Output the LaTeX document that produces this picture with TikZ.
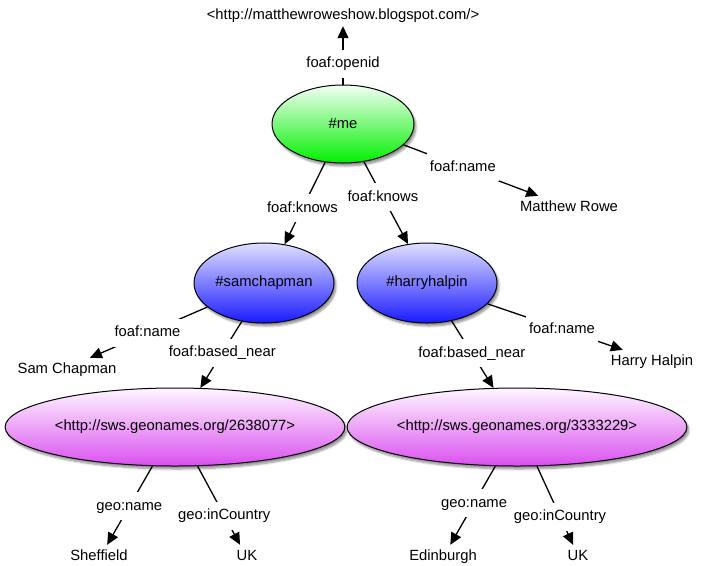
\documentclass[tikz,border=0pt]{standalone}
\usepackage{fontspec}
\setmainfont{Liberation Sans}
\usetikzlibrary{arrows.meta,shapes.geometric,shadows.blur}
\definecolor{gtop}{HTML}{F4FFF4}
\definecolor{gmid}{HTML}{3CFF3C}
\definecolor{gbot}{HTML}{00F000}
\definecolor{btop}{HTML}{E0E0FF}
\definecolor{bmid}{HTML}{7070FF}
\definecolor{bbot}{HTML}{1A1AFF}
\definecolor{ptop}{HTML}{FFF6FF}
\definecolor{pmid}{HTML}{F2B0F8}
\definecolor{pbot}{HTML}{DA50F0}
\tikzset{
  ent/.style={ellipse, draw=black, line width=1pt, inner sep=0pt,
    blur shadow={shadow xshift=2pt, shadow yshift=-3pt, shadow opacity=45, shadow blur steps=6}},
  green ent/.style={ent, top color=gtop, middle color=gmid, bottom color=gbot},
  blue ent/.style={ent, top color=btop, middle color=bmid, bottom color=bbot},
  pink ent/.style={ent, top color=ptop, middle color=pmid, bottom color=pbot},
  lit/.style={inner xsep=2pt, inner ysep=4pt, text height=11pt, text depth=3pt},
  lab/.style={fill=white, inner xsep=3pt, inner ysep=7pt, text height=11pt, text depth=3pt},
  edge/.style={draw=black, line width=1.3pt, -{Triangle[length=12pt,width=11pt]}},
}
\begin{document}
\begin{tikzpicture}[x=1pt,y=-1pt,font=\fontsize{14.8}{17}\selectfont]
\useasboundingbox (0,0) rectangle (708,565);
% resources
\node[green ent, minimum width=142pt, minimum height=78pt] (me) at (343,124) {\#me};
\node[blue ent, minimum width=140pt, minimum height=80pt] (sam) at (264,283) {\#samchapman};
\node[blue ent, minimum width=140pt, minimum height=80pt] (harry) at (427,283) {\#harryhalpin};
\node[pink ent, minimum width=320pt, minimum height=78pt] (geoA) at (175,427) {<http://sws.geonames.org/2638077>};
\node[pink ent, minimum width=320pt, minimum height=78pt] (geoB) at (517,427) {<http://sws.geonames.org/3333229>};
% literals
\node[lit] (url) at (343,15) {<http://matthewroweshow.blogspot.com/>};
\node[lit] (mrowe) at (569,207) {Matthew Rowe};
\node[lit] (schap) at (67,369) {Sam Chapman};
\node[lit] (hhal) at (652,361) {Harry Halpin};
\node[lit] (sheff) at (99,556) {Sheffield};
\node[lit] (ukA) at (247,556) {UK};
\node[lit] (edin) at (443,556) {Edinburgh};
\node[lit] (ukB) at (578,556) {UK};
% connectors
\draw[edge] (me.90) -- node[lab,pos=.36] {foaf:openid} (url.-90);
\draw[edge] (me.-19) -- node[lab,pos=.44] {foaf:name} (mrowe.160);
\draw[edge] (me.-115) -- node[lab,pos=.56] {foaf:knows} (sam.62);
\draw[edge] (me.-61) -- node[lab,pos=.43] {foaf:knows} (harry.116);
\draw[edge] (sam.203) -- node[lab,pos=.51] {foaf:name} (schap.26);
\draw[edge] (sam.-120) -- node[lab,pos=.47] {foaf:based\_near} (geoA.57);
\draw[edge] (harry.-19) -- node[lab,pos=.55] {foaf:name} (hhal.159);
\draw[edge] (harry.-57) -- node[lab,pos=.48] {foaf:based\_near} (geoB.121);
\draw[edge] (geoA.-120) -- node[lab,pos=.51] {geo:name} (sheff.54);
\draw[edge] (geoA.-60) -- node[lab,pos=.63] {geo:inCountry} (ukA.122);
\draw[edge] (geoB.-119) -- node[lab,pos=.47] {geo:name} (edin.57);
\draw[edge] (geoB.-63) -- node[lab,pos=.64] {geo:inCountry} (ukB.114);
\end{tikzpicture}
\end{document}
